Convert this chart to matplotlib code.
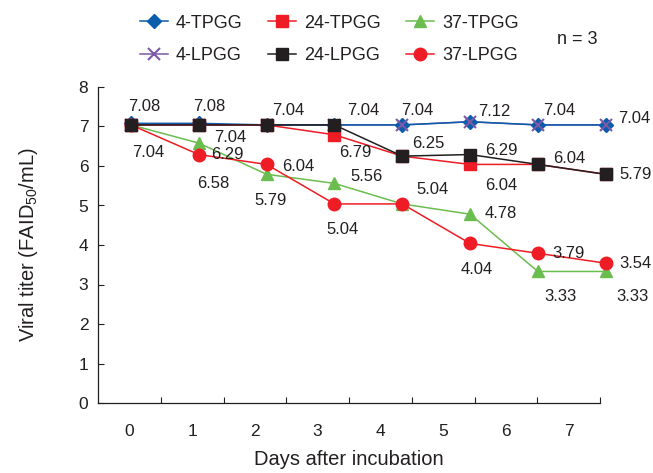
import matplotlib
matplotlib.use('Agg')
from matplotlib import pyplot as plt
from matplotlib.lines import Line2D

# data
days = [0, 1, 2, 3, 4, 5, 6, 7]
tpgg_4 = [7.08, 7.08, 7.04, 7.04, 7.04, 7.12, 7.04, 7.04]
lpgg_4 = [7.04, 7.04, 7.04, 7.04, 7.04, 7.12, 7.04, 7.04]
tpgg_24 = [7.04, 7.04, 7.04, 6.79, 6.25, 6.04, 6.04, 5.79]
lpgg_24 = [7.04, 7.04, 7.04, 7.04, 6.25, 6.29, 6.04, 5.79]
tpgg_37 = [7.04, 6.58, 5.79, 5.56, 5.04, 4.78, 3.33, 3.33]
lpgg_37 = [7.04, 6.29, 6.04, 5.04, 5.04, 4.04, 3.79, 3.54]

names = {'4T': '4-TPGG', '4L': '4-LPGG', '24T': '24-TPGG',
         '24L': '24-LPGG', '37T': '37-TPGG', '37L': '37-LPGG'}
series = {'4T': tpgg_4, '4L': lpgg_4, '24T': tpgg_24,
          '24L': lpgg_24, '37T': tpgg_37, '37L': lpgg_37}

# which value gets a text label, and where (pixel offset from the point)
value_labels = [
    ('4T', 0, 13, 17), ('4T', 1, 10, 17), ('4T', 2, 22, 14), ('4T', 3, 29, 14),
    ('4T', 4, 15, 14), ('4T', 5, 24, 10), ('4T', 6, 21, 14), ('4T', 7, 29, 6),
    ('24T', 0, 17, -28), ('24T', 1, 31, -13), ('24T', 3, 21, -18),
    ('24T', 5, 31, -21),
    ('24L', 4, 26, 13), ('24L', 5, 31, 4), ('24L', 6, 31, 6), ('24L', 7, 30, 0),
    ('37T', 1, 14, -40), ('37T', 2, 4, -26), ('37T', 3, 32, 7), ('37T', 5, 31, 1),
    ('37T', 6, 23, -25), ('37T', 7, 27, -25),
    ('37L', 1, 29, 0), ('37L', 2, 32, -2), ('37L', 3, 8, -26), ('37L', 4, 30, 14),
    ('37L', 5, 7, -26), ('37L', 6, 31, 0), ('37L', 7, 30, 0),
]

font = 'Liberation Sans'
plt.rcParams['font.family'] = [font, 'DejaVu Sans']
plt.rcParams['mathtext.fontset'] = 'custom'
plt.rcParams['mathtext.rm'] = font
plt.rcParams['mathtext.it'] = font
text_color = '#231f20'

styles = {
    '4T': dict(color='#0a5cad', marker='D', markersize=7),
    '4L': dict(color='#7a5aa6', marker='x', markersize=9, markeredgewidth=1.5),
    '37T': dict(color='#6cbd4f', marker='^', markersize=9),
    '37L': dict(color='#ee1c25', marker='o', markersize=9),
    '24T': dict(color='#ee1c25', marker='s', markersize=8),
    '24L': dict(color='#231f20', marker='s', markersize=8),
}

fig = plt.figure(figsize=(6.53, 4.73), dpi=100)
ax = fig.add_axes([98 / 653, 1 - 403 / 473, 502 / 653, 316 / 473])

# frame with category ticks
ax.set_xlim(-0.5, 7.5)
ax.set_ylim(0, 8)
ax.set_xticks(days)
ax.set_xticks([d + 0.5 for d in days], minor=True)
ax.tick_params(axis='x', which='major', length=0, pad=15, labelsize=12.5, labelcolor=text_color)
ax.tick_params(axis='x', which='minor', direction='in', length=4, width=0.8, color=text_color)
ax.set_yticks(range(0, 9))
ax.tick_params(axis='y', direction='in', length=4, width=0.8, pad=7, labelsize=12.5,
               labelcolor=text_color, color=text_color)
for side in ['top', 'right']:
    ax.spines[side].set_visible(False)
for side in ['left', 'bottom']:
    ax.spines[side].set_color(text_color)
    ax.spines[side].set_linewidth(0.9)
ax.set_xlabel('Days after incubation', fontsize=14.5, color=text_color, labelpad=8)
ax.set_ylabel('Viral titer (FAID$_{50}$/mL)', fontsize=14.5, color=text_color, labelpad=28)

# the lines sit on a slightly wider day scale than the category ticks
ax2 = ax.twiny()
ax2.set_xlim(-0.487, 6.917)
ax2.axis('off')

# purple line under the blue one, its crosses above the diamonds
ax2.plot(days, lpgg_4, linewidth=1.1, color=styles['4L']['color'], clip_on=False)
lines = {}
lines['4T'], = ax2.plot(days, tpgg_4, linewidth=1.1, clip_on=False, **styles['4T'])
ax2.plot(days, lpgg_4, linestyle='none', clip_on=False, **styles['4L'])
lines['4L'] = Line2D([], [], linewidth=1.1, **styles['4L'])
for key in ['37T', '37L', '24T', '24L']:
    lines[key], = ax2.plot(days, series[key], linewidth=1.1, clip_on=False, **styles[key])

for key, d, dx, dy in value_labels:
    v = series[key][d]
    ax2.annotate(f'{v:.2f}', (days[d], v), xytext=(dx, dy), textcoords='offset pixels',
                 ha='center', va='center', fontsize=12, color=text_color,
                 annotation_clip=False)

order = ['4T', '4L', '24T', '24L', '37T', '37L']
fig.legend([lines[k] for k in order], [names[k] for k in order], ncol=3,
           loc='center left', bbox_to_anchor=(140 / 653, 1 - 39.5 / 473),
           frameon=False, fontsize=13, handlelength=1.55, handletextpad=0.45,
           columnspacing=1.4, labelspacing=0.88, borderpad=0, borderaxespad=0,
           labelcolor=text_color)
fig.text(557 / 653, 1 - 40 / 473, 'n = 3', fontsize=13, color=text_color, va='center')

fig.savefig('out.png', dpi=100)
